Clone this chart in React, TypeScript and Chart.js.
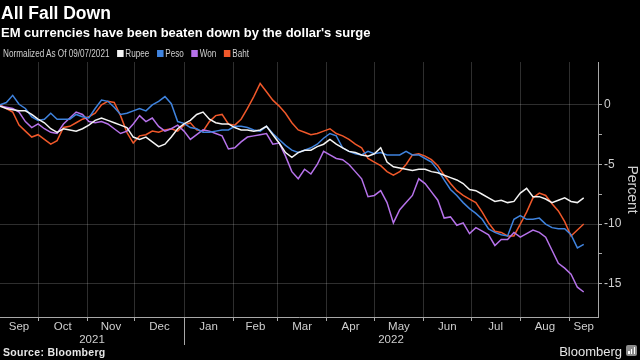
import React, { useEffect, useRef } from 'react';
import { Chart, registerables } from 'chart.js';

Chart.register(...registerables);

// ---------- data ----------
// x values are day offsets from 2021-09-07 (normalisation date)
const START_DATE = '2021-09-07';
const DAYS = [
  0, 4, 8, 12, 16, 20, 24, 28, 32, 36, 40, 44, 48, 52, 56, 60, 64, 68, 72, 76,
  80, 84, 88, 92, 96, 100, 104, 108, 112, 116, 120, 124, 128, 132, 136, 140, 144, 148, 152, 156,
  160, 164, 168, 172, 176, 180, 184, 188, 192, 196, 200, 204, 208, 212, 216, 220, 224, 228, 232, 236,
  240, 244, 248, 252, 256, 260, 264, 268, 272, 276, 280, 284, 288, 292, 296, 300, 304, 308, 312, 316,
  320, 324, 328, 332, 336, 340, 344, 348, 352, 356, 360, 364, 368,
];

const RUPEE = [
  -0.1, -0.3, -0.4, -0.5, -0.5, -0.8, -1.2, -1.5, -2.0, -2.3,
  -2.0, -2.1, -2.2, -2.0, -1.7, -1.3, -1.1, -1.3, -1.5, -1.7,
  -1.9, -2.7, -2.9, -2.7, -3.1, -3.5, -3.3, -2.7, -2.0, -1.6,
  -1.3, -0.8, -0.6, -1.2, -1.5, -1.6, -1.6, -1.9, -2.1, -2.1,
  -2.2, -2.1, -1.8, -2.5, -3.2, -4.0, -4.4, -4.0, -3.8, -3.8,
  -3.5, -3.3, -2.9, -3.3, -3.6, -3.9, -4.0, -4.2, -4.3, -4.1,
  -3.6, -4.8, -5.2, -5.3, -5.4, -5.5, -5.4, -5.4, -5.6, -5.7,
  -5.9, -6.1, -6.3, -6.6, -7.1, -7.2, -7.5, -7.8, -8.1, -8.0,
  -8.2, -8.1, -7.4, -7.0, -7.7, -7.7, -7.9, -8.2, -8.0, -7.8,
  -8.1, -8.2, -7.8,
];

const PESO = [
  0.0, 0.2, 0.8, 0.05, -0.3, -1.0, -1.3, -1.2, -0.7, -1.2,
  -1.2, -1.2, -0.8, -1.0, -1.1, -0.3, 0.4, 0.3, -0.2, -0.8,
  -0.7, -0.5, -0.3, -0.5, 0.0, 0.3, 0.7, 0.1, -1.4, -1.55,
  -1.9, -2.0, -2.3, -2.3, -2.2, -2.1, -2.1, -1.8, -1.8, -1.9,
  -2.1, -2.2, -1.8, -2.4, -2.9, -3.4, -3.8, -4.0, -3.8, -3.6,
  -3.3, -2.8, -2.4, -2.6, -3.6, -3.9, -4.1, -4.2, -3.9, -4.1,
  -4.0, -4.2, -4.2, -4.2, -3.9, -4.2, -4.2, -4.5, -4.8, -5.45,
  -6.3, -7.1, -7.6, -8.2, -8.7, -9.1, -9.6, -10.4, -10.7, -10.9,
  -11.0, -9.6, -9.3, -9.6, -9.6, -9.5, -10.0, -10.3, -10.4, -10.4,
  -10.9, -12.0, -11.7,
];

const WON = [
  -0.1, -0.2, -0.3, -0.6, -1.4, -1.9, -1.6, -2.0, -2.3, -2.4,
  -1.6, -1.1, -0.6, -0.8, -1.4, -1.5, -1.4, -1.6, -2.0, -2.4,
  -2.2, -1.6, -0.9, -1.4, -1.1, -1.8, -2.2, -2.0, -1.7, -2.2,
  -2.9, -2.5, -2.1, -2.2, -2.4, -2.6, -3.7, -3.6, -3.1, -2.7,
  -2.6, -2.5, -2.4, -3.3, -3.2, -4.3, -5.6, -6.2, -5.4, -5.8,
  -5.0, -3.9, -4.2, -4.5, -4.6, -5.0, -5.6, -6.2, -7.7, -7.6,
  -7.2, -8.2, -9.9, -8.8, -8.2, -7.6, -6.2, -6.6, -7.3, -8.0,
  -9.5, -9.4, -10.1, -9.9, -10.8, -10.3, -10.6, -10.9, -11.8, -11.3,
  -11.3, -10.7, -11.1, -10.8, -10.5, -10.7, -11.1, -12.2, -13.3, -13.7,
  -14.2, -15.3, -15.7,
];

const BAHT = [
  0.0, -0.3, -0.6, -1.7, -2.2, -2.7, -2.5, -2.9, -3.3, -3.0,
  -1.9, -1.8, -1.5, -1.2, -1.0, -0.7, 0.0, 0.3, 0.2, -0.9,
  -2.3, -3.2, -2.6, -2.5, -2.2, -2.3, -2.1, -2.0, -2.2, -1.7,
  -1.5, -2.1, -2.2, -1.4, -0.9, -0.8, -1.6, -1.7, -1.2, -0.3,
  0.7, 1.8, 1.1, 0.4, -0.1, -0.7, -1.5, -2.1, -2.3, -2.5,
  -2.4, -2.2, -2.0, -2.4, -2.6, -2.9, -3.3, -3.6, -4.5, -4.8,
  -5.1, -5.6, -5.9, -5.6, -5.0, -4.2, -4.1, -4.3, -4.6, -5.1,
  -5.9, -6.6, -7.2, -7.6, -7.9, -8.2, -9.0, -9.9, -10.6, -10.7,
  -11.0, -11.0, -10.0, -9.0, -7.8, -7.4, -7.6, -8.3, -8.9, -9.8,
  -11.0, -10.5, -10.0,
];

const SERIES_NAMES = ['Rupee', 'Peso', 'Won', 'Baht'];
const SERIES_VALUES = [RUPEE, PESO, WON, BAHT];

// month starts as day offsets from START_DATE (Oct 1 2021 ... Sep 1 2022)
const MONTH_STARTS = [24, 55, 85, 116, 147, 175, 206, 236, 267, 297, 328, 359];
const MONTH_LABELS = ['Sep', 'Oct', 'Nov', 'Dec', 'Jan', 'Feb', 'Mar', 'Apr', 'May', 'Jun', 'Jul', 'Aug', 'Sep'];
const YEAR_LABELS = ['2021', '2022'];
const YEAR_BREAK = 116; // Jan 1 2022
const X_MAX = 377;
const Y_MIN = -17.8;
const Y_MAX = 3.6;
const Y_TICKS = [-15, -10, -5, 0];
const Y_MINOR_TICKS = [-12.5, -7.5, -2.5];

// ---------- style ----------
const COLORS = ['#f4f4f4', '#3f83de', '#b672ea', '#f0582a'];
const GRID = 'rgba(255,255,255,0.18)';
const AXIS = '#a8a8a8';
const TICK_TEXT = '#cfcfcf';
const FONT = '"Liberation Sans", Arial, sans-serif';

export default function App() {
  const ref = useRef<HTMLCanvasElement | null>(null);

  useEffect(() => {
    if (!ref.current) return;
    const bounds = [0, ...MONTH_STARTS, X_MAX];
    const centers = MONTH_LABELS.map((_, i) => (bounds[i] + bounds[i + 1]) / 2);
    const labelMap = new Map<number, string>();
    centers.forEach((c, i) => labelMap.set(c, MONTH_LABELS[i]));
    const xTicks = [...MONTH_STARTS, ...centers].sort((a, b) => a - b);
    const isBoundary = (v: any) => MONTH_STARTS.includes(v);
    const yAll = [...Y_TICKS, ...Y_MINOR_TICKS].sort((a, b) => a - b);

    const yearPlugin = {
      id: 'yearLabels',
      afterDraw(chart: any) {
        const { ctx, chartArea } = chart;
        const x = chart.scales.x;
        ctx.save();
        const sx = Math.round(x.getPixelForValue(YEAR_BREAK)) + 0.5;
        ctx.strokeStyle = AXIS;
        ctx.lineWidth = 1;
        ctx.beginPath();
        ctx.moveTo(sx, chartArea.bottom);
        ctx.lineTo(sx, chartArea.bottom + 28);
        ctx.stroke();
        ctx.fillStyle = TICK_TEXT;
        ctx.font = `11.5px ${FONT}`;
        ctx.textAlign = 'center';
        ctx.textBaseline = 'alphabetic';
        const yc = [(0 + YEAR_BREAK) / 2, (YEAR_BREAK + X_MAX) / 2];
        YEAR_LABELS.forEach((t, i) => {
          ctx.fillText(t, x.getPixelForValue(yc[i]), chartArea.bottom + 26);
        });
        ctx.restore();
      },
    };

    const chart = new Chart(ref.current, {
      type: 'line',
      data: {
        datasets: SERIES_NAMES.map((name, i) => ({
          label: name,
          data: DAYS.map((d, j) => ({ x: d, y: SERIES_VALUES[i][j] })),
          borderColor: COLORS[i],
          backgroundColor: COLORS[i],
          borderWidth: 1.5,
          pointRadius: 0,
          tension: 0,
          fill: false,
        })),
      },
      options: {
        responsive: false,
        animation: false,
        events: [],
        layout: { padding: { top: 62, left: 0, right: 0, bottom: 0 } },
        plugins: {
          legend: { display: false },
          tooltip: { enabled: false },
          title: { display: false },
        },
        scales: {
          x: {
            type: 'linear',
            min: 0,
            max: X_MAX,
            afterBuildTicks: (s: any) => {
              s.ticks = xTicks.map((v) => ({ value: v }));
            },
            afterFit: (s: any) => {
              s.height = 43;
            },
            ticks: {
              autoSkip: false,
              maxRotation: 0,
              minRotation: 0,
              padding: -1,
              color: TICK_TEXT,
              font: { family: FONT, size: 11.5 },
              callback: (v: any) => labelMap.get(v) ?? '',
            },
            grid: {
              color: (c: any) => (c.tick && isBoundary(c.tick.value) ? GRID : 'rgba(0,0,0,0)'),
              tickColor: (c: any) => (c.tick && isBoundary(c.tick.value) ? AXIS : 'rgba(0,0,0,0)'),
              tickLength: 4,
              drawTicks: true,
              lineWidth: 1,
            },
            border: { display: true, color: AXIS, width: 1 },
          },
          y: {
            type: 'linear',
            position: 'right',
            min: Y_MIN,
            max: Y_MAX,
            afterBuildTicks: (s: any) => {
              s.ticks = yAll.map((v) => ({ value: v }));
            },
            afterFit: (s: any) => {
              s.width = 42;
            },
            ticks: {
              padding: 2,
              color: TICK_TEXT,
              font: { family: FONT, size: 12 },
              callback: (v: any) => (Y_TICKS.includes(v) ? String(v) : ''),
            },
            grid: {
              color: (c: any) => (c.tick && Y_TICKS.includes(c.tick.value) ? GRID : 'rgba(0,0,0,0)'),
              tickColor: AXIS,
              tickLength: 4,
              drawTicks: true,
            },
            border: { display: true, color: AXIS, width: 1 },
            title: {
              display: true,
              text: 'Percent',
              color: TICK_TEXT,
              font: { family: FONT, size: 14 },
              padding: 0,
            },
          },
        },
      },
      plugins: [yearPlugin],
    } as any);

    return () => chart.destroy();
  }, []);

  const sq = (c: string) => (
    <span style={{ display: 'inline-block', width: 8.5, height: 7, background: c, marginRight: 2 }} />
  );

  return (
    <div
      style={{
        position: 'fixed',
        left: 0,
        top: 0,
        width: 640,
        height: 360,
        background: '#000',
        overflow: 'hidden',
        fontFamily: FONT,
        color: '#fff',
      }}
    >
      <canvas ref={ref} width={640} height={360} style={{ position: 'absolute', left: 0, top: 0, width: 640, height: 360 }} />
      <div style={{ position: 'absolute', left: 1, top: 4.5, fontSize: 17.5, lineHeight: '17.5px', fontWeight: 700, whiteSpace: 'nowrap' }}>
        All Fall Down
      </div>
      <div style={{ position: 'absolute', left: 1, top: 26.3, fontSize: 13, lineHeight: '13px', fontWeight: 700, whiteSpace: 'nowrap' }}>
        EM currencies have been beaten down by the dollar's surge
      </div>
      <div
        style={{
          position: 'absolute',
          left: 3,
          top: 48.8,
          fontSize: 10,
          lineHeight: '10px',
          color: '#cfcfcf',
          whiteSpace: 'nowrap',
          display: 'flex',
          alignItems: 'center',
          transform: 'scaleX(0.815)',
          transformOrigin: '0 0',
        }}
      >
        <span>Normalized As Of 09/07/2021</span>
        {SERIES_NAMES.map((n, i) => (
          <span key={n} style={{ display: 'inline-flex', alignItems: 'center', marginLeft: 9 }}>
            {sq(COLORS[i])}
            <span>{n}</span>
          </span>
        ))}
      </div>
      <div style={{ position: 'absolute', left: 3, top: 347, fontSize: 10.5, lineHeight: '10.5px', fontWeight: 700, color: '#e6e6e6', whiteSpace: 'nowrap', letterSpacing: 0.3 }}>
        Source: Bloomberg
      </div>
      <div style={{ position: 'absolute', right: 18, top: 345, fontSize: 13, lineHeight: '13px', color: '#e6e6e6', whiteSpace: 'nowrap' }}>
        Bloomberg
      </div>
      <div style={{ position: 'absolute', left: 626, top: 345, width: 11, height: 11, background: '#8c8c8c', borderRadius: 2 }}>
        <div style={{ position: 'absolute', left: 2, top: 6, width: 1.5, height: 3, background: '#fff' }} />
        <div style={{ position: 'absolute', left: 4.8, top: 4, width: 1.5, height: 5, background: '#fff' }} />
        <div style={{ position: 'absolute', left: 7.6, top: 2, width: 1.5, height: 7, background: '#fff' }} />
      </div>
    </div>
  );
}
